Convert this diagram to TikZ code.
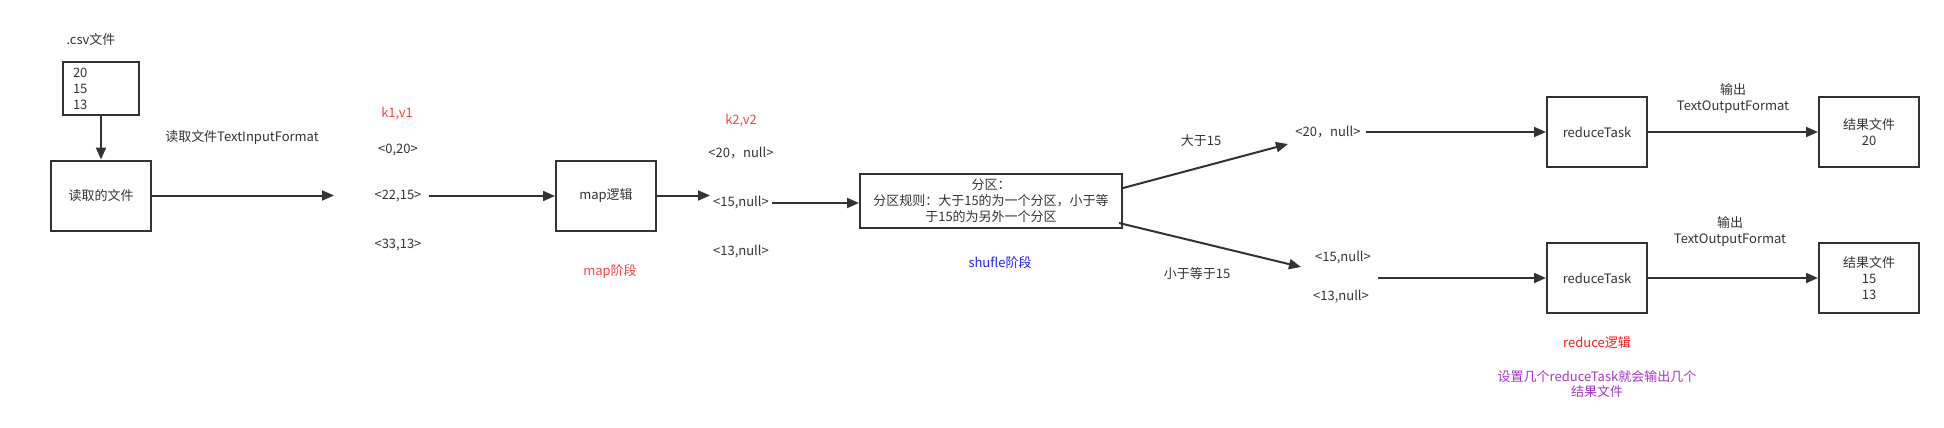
\documentclass[tikz,border=0pt]{standalone}
\usepackage{fontspec}
\setmainfont{Noto Sans CJK SC}
\usetikzlibrary{arrows.meta}
\definecolor{ink}{HTML}{333333}
\definecolor{hired}{HTML}{FF4040}
\definecolor{purered}{HTML}{FF1A1A}
\definecolor{hiblue}{HTML}{2222FF}
\definecolor{hipurple}{HTML}{A634CC}
\begin{document}
\begin{tikzpicture}[x=1pt,y=-1pt,
  font=\fontsize{13}{16}\selectfont,
  box/.style={draw=ink, line width=2pt, text=ink, minimum width=100pt, minimum height=70pt, inner sep=0pt, align=center},
  lbl/.style={text=ink, inner sep=0pt, align=center},
  arr/.style={draw=ink, line width=2pt, -{Triangle[length=12pt,width=10pt]}}]
\useasboundingbox (0,0) rectangle (1944,428);
% left part
\node[lbl] (csvlabel) at (91,40) {.csv文件};
\node[box, minimum width=76pt, minimum height=53pt, text width=56pt, inner xsep=10pt, align=left] (csv) at (101,88.5) {20\\15\\13};
\node[box] (read) at (101,195.5) {读取的文件};
\draw[arr] (csv.south) -- (read.north);
\node[lbl] (tif) at (242,137) {读取文件TextInputFormat};
\coordinate (c1) at (334,195.5);
\draw[arr] (read.east) -- (c1);
% k1 v1
\node[lbl, text=hired] (k1v1) at (397,114) {k1,v1};
\node[lbl] (kv0) at (398,150) {<0,20>};
\node[lbl] (kv22) at (398,196) {<22,15>};
\node[lbl] (kv33) at (398,245) {<33,13>};
% map
\node[box] (map) at (606,195.5) {map逻辑};
\draw[arr] ([xshift=7pt]kv22.east) -- (kv22.east -| map.west);
\node[lbl, text=hired] (mapstage) at (610,271) {map阶段};
\coordinate (c2) at (710,195.5);
\draw[arr] (map.east) -- (c2);
% k2 v2
\node[lbl, text=hired] (k2v2) at (741,121) {k2,v2};
\node[lbl] (n20) at (741,153) {<20，null>};
\node[lbl] (n15) at (741,203) {<15,null>};
\node[lbl] (n13) at (741,252) {<13,null>};
% partition
\node[box, minimum width=262pt, minimum height=54pt] (part) at (991,201) {分区：\\分区规则：大于15的为一个分区，小于等\\于15的为另外一个分区};
\draw[arr] ([xshift=3pt]n15.east) -- (n15.east -| part.west);
\node[lbl, text=hiblue] (shuffle) at (1000,263) {shufle阶段};
% branches
\coordinate (u1) at (1288,144);
\coordinate (d1) at (1301,267);
\draw[arr] ([yshift=13pt]part.east) -- (u1);
\draw[arr] ([xshift=-4pt,yshift=-22pt]part.east) -- (d1);
\node[lbl] (gt) at (1201,141) {大于15};
\node[lbl] (le) at (1197,274) {小于等于15};
\node[lbl] (g20) at (1328,132) {<20，null>};
\node[lbl] (l15) at (1343,258) {<15,null>};
\node[lbl] (l13) at (1341,297) {<13,null>};
% reduce
\node[box] (rt1) at (1597,132) {reduceTask};
\node[box] (rt2) at (1597,278) {reduceTask};
\draw[arr] ([xshift=5pt]g20.east) -- (rt1.west);
\coordinate (s2) at (1378,278);
\draw[arr] (s2) -- (rt2.west);
\node[box] (res1) at (1869,132) {结果文件\\20};
\node[box] (res2) at (1869,278) {结果文件\\15\\13};
\draw[arr] (rt1.east) -- (res1.west);
\draw[arr] (rt2.east) -- (res2.west);
\node[lbl] (out1) at (1733,99) {输出\\TextOutputFormat};
\node[lbl] (out2) at (1730,232) {输出\\TextOutputFormat};
\node[lbl, text=purered] (redlogic) at (1597,343) {reduce逻辑};
\node[lbl, text=hipurple, font=\fontsize{13}{15}\selectfont] (note) at (1597,384.5) {设置几个reduceTask就会输出几个\\结果文件};
\end{tikzpicture}
\end{document}
